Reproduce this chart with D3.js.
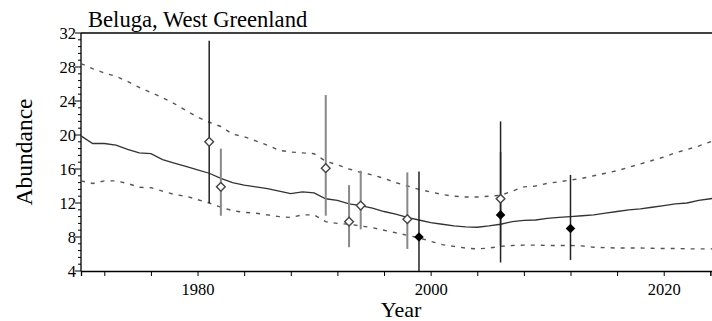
<!DOCTYPE html>
<html>
<head>
<meta charset="utf-8">
<script src="https://cdn.jsdelivr.net/npm/d3@7"></script>
<style>
  body { margin: 0; background: #fff; }
  svg { display: block; font-family: "Liberation Serif", "Times New Roman", serif; }
</style>
</head>
<body>
<div id="chart"></div>
<script>
// model trajectory, one value per year
var years = d3.range(1970, 2026);
var median = [19.9, 19.0, 19.0, 18.8, 18.3, 17.9, 17.8, 17.1, 16.7, 16.3,
              15.9, 15.5, 14.9, 14.4, 14.1, 13.9, 13.7, 13.4, 13.1, 13.3,
              13.2, 12.5, 12.3, 11.9, 11.7, 11.4, 11.0, 10.7, 10.3, 10.0,
              9.7, 9.5, 9.3, 9.2, 9.15, 9.3, 9.5, 9.8, 9.95, 10.0,
              10.2, 10.3, 10.4, 10.5, 10.6, 10.8, 11.0, 11.2, 11.3, 11.5,
              11.7, 11.9, 12.0, 12.3, 12.5, 12.7];
var upper = [28.4, 27.8, 27.3, 26.9, 26.3, 25.6, 25.0, 24.4, 23.7, 22.9,
             22.1, 21.5, 21.0, 20.1, 19.8, 19.3, 18.8, 18.2, 18.0, 17.9,
             17.8, 16.9, 16.5, 16.0, 15.6, 15.3, 14.9, 14.4, 14.0, 13.6,
             13.3, 13.0, 12.8, 12.7, 12.7, 12.8, 12.9, 13.4, 13.9, 14.0,
             14.3, 14.5, 14.7, 14.9, 15.2, 15.5, 15.8, 16.2, 16.6, 17.0,
             17.4, 17.9, 18.3, 18.7, 19.2, 19.6];
var lower = [14.6, 14.3, 14.6, 14.6, 14.3, 13.85, 13.8, 13.4, 13.0, 12.8,
             12.4, 12.0, 11.5, 11.1, 10.9, 10.8, 10.6, 10.4, 10.3, 10.6,
             10.6, 9.8, 9.6, 9.5, 9.3, 9.1, 8.8, 8.5, 8.2, 7.9,
             7.5, 7.1, 6.9, 6.7, 6.6, 6.7, 6.9, 7.0, 7.05, 7.05,
             7.0, 7.0, 7.0, 6.95, 6.8, 6.75, 6.7, 6.7, 6.7, 6.67,
             6.65, 6.65, 6.6, 6.6, 6.6, 6.6];

// survey estimates (open = older surveys, filled = newer)
var openYears = [1981, 1982, 1991, 1993, 1994, 1998, 2006];
var openEst   = [19.2, 13.9, 16.1, 9.8, 11.7, 10.1, 12.5];
var openLo    = [12.0, 10.5, 10.5, 6.8, 8.9, 6.6, 7.0];
var openHi    = [31.1, 18.4, 24.7, 14.1, 15.8, 15.6, 21.6];
var openDark  = [true, false, false, false, false, false, true];

var filledYears = [1999, 2006, 2012];
var filledEst   = [8.0, 10.6, 9.0];
var filledLo    = [4.0, 5.0, 5.3];
var filledHi    = [15.7, 18.0, 15.3];

var yTicks = [4, 8, 12, 16, 20, 24, 28, 32];
var xLabels = [1980, 2000, 2020];

var W = 712, H = 321;
var svg = d3.select('#chart').append('svg')
    .attr('width', W)
    .attr('height', H);

var x = d3.scaleLinear().domain([1970, 2025]).range([81, 722]);
var y = d3.scaleLinear().domain([4, 32]).range([271, 33]);

// y axis: major + minor ticks
var yAxis = svg.append('g').attr('transform', 'translate(81,0)');
yAxis.append('line')
    .attr('y1', y(4)).attr('y2', y(32))
    .attr('stroke', '#000').attr('stroke-width', 1.3);
var minor = d3.range(4, 32.01, 0.8).filter(function(v) { return Math.abs(v % 4) > 0.01 && Math.abs(v % 4 - 4) > 0.01; });
yAxis.selectAll('.minor').data(minor).enter().append('line')
    .attr('x1', -3).attr('x2', 0)
    .attr('y1', function(d) { return y(d); }).attr('y2', function(d) { return y(d); })
    .attr('stroke', '#000');
yAxis.selectAll('.major').data(yTicks).enter().append('line')
    .attr('x1', -6).attr('x2', 0)
    .attr('y1', function(d) { return y(d); }).attr('y2', function(d) { return y(d); })
    .attr('stroke', '#000');
yAxis.selectAll('text').data(yTicks).enter().append('text')
    .attr('x', -5)
    .attr('y', function(d) { return y(d) + 5.5; })
    .attr('text-anchor', 'end')
    .attr('font-size', 16.5)
    .text(function(d) { return d; });

// top frame line
svg.append('line')
    .attr('x1', 81).attr('x2', W).attr('y1', y(32)).attr('y2', y(32))
    .attr('stroke', '#000').attr('stroke-width', 1.3);

// x axis
var xAxis = d3.axisBottom(x)
    .tickValues(d3.range(1972, 2025, 4).concat([2024]))
    .tickSize(5)
    .tickFormat(function(d) { return xLabels.indexOf(d) >= 0 ? d : ''; });
var gx = svg.append('g')
    .attr('transform', 'translate(0,' + y(4) + ')')
    .call(xAxis);
gx.select('.domain').attr('stroke-width', 1.3);
gx.selectAll('text')
    .attr('font-family', '"Liberation Serif", serif')
    .attr('font-size', 16.5)
    .attr('fill', '#000')
    .attr('dy', '0.95em');

// model lines
var line = d3.line()
    .x(function(d, i) { return x(years[i]); })
    .y(function(d) { return y(d); });

svg.append('path').datum(upper)
    .attr('fill', 'none').attr('stroke', '#555').attr('stroke-width', 1.4)
    .attr('stroke-dasharray', '4,6')
    .attr('d', line);
svg.append('path').datum(lower)
    .attr('fill', 'none').attr('stroke', '#555').attr('stroke-width', 1.4)
    .attr('stroke-dasharray', '4,6')
    .attr('d', line);
svg.append('path').datum(median)
    .attr('fill', 'none').attr('stroke', '#333').attr('stroke-width', 1.3)
    .attr('d', line);

// error bars
openYears.forEach(function(yr, i) {
    svg.append('line')
        .attr('x1', x(yr)).attr('x2', x(yr))
        .attr('y1', y(openLo[i])).attr('y2', y(openHi[i]))
        .attr('stroke', openDark[i] ? '#222' : '#888')
        .attr('stroke-width', openDark[i] ? 1.5 : 2);
});
filledYears.forEach(function(yr, i) {
    svg.append('line')
        .attr('x1', x(yr)).attr('x2', x(yr))
        .attr('y1', y(filledLo[i])).attr('y2', y(filledHi[i]))
        .attr('stroke', '#222')
        .attr('stroke-width', 1.5);
});

// diamonds
openYears.forEach(function(yr, i) {
    svg.append('path')
        .attr('d', d3.symbol().type(d3.symbolSquare).size(38)())
        .attr('transform', 'translate(' + x(yr) + ',' + y(openEst[i]) + ') rotate(45)')
        .attr('fill', '#fff')
        .attr('stroke', '#444')
        .attr('stroke-width', 1.4);
});
filledYears.forEach(function(yr, i) {
    svg.append('path')
        .attr('d', d3.symbol().type(d3.symbolSquare).size(46)())
        .attr('transform', 'translate(' + x(yr) + ',' + y(filledEst[i]) + ') rotate(45)')
        .attr('fill', '#000');
});

// titles
svg.append('text')
    .attr('x', 88).attr('y', 26.5)
    .attr('font-size', 22.6)
    .text('Beluga, West Greenland');
svg.append('text')
    .attr('x', 401).attr('y', 317)
    .attr('text-anchor', 'middle')
    .attr('font-size', 22)
    .text('Year');
svg.append('text')
    .attr('transform', 'translate(32,152) rotate(-90)')
    .attr('text-anchor', 'middle')
    .attr('font-size', 23.5)
    .text('Abundance');
</script>
</body>
</html>
